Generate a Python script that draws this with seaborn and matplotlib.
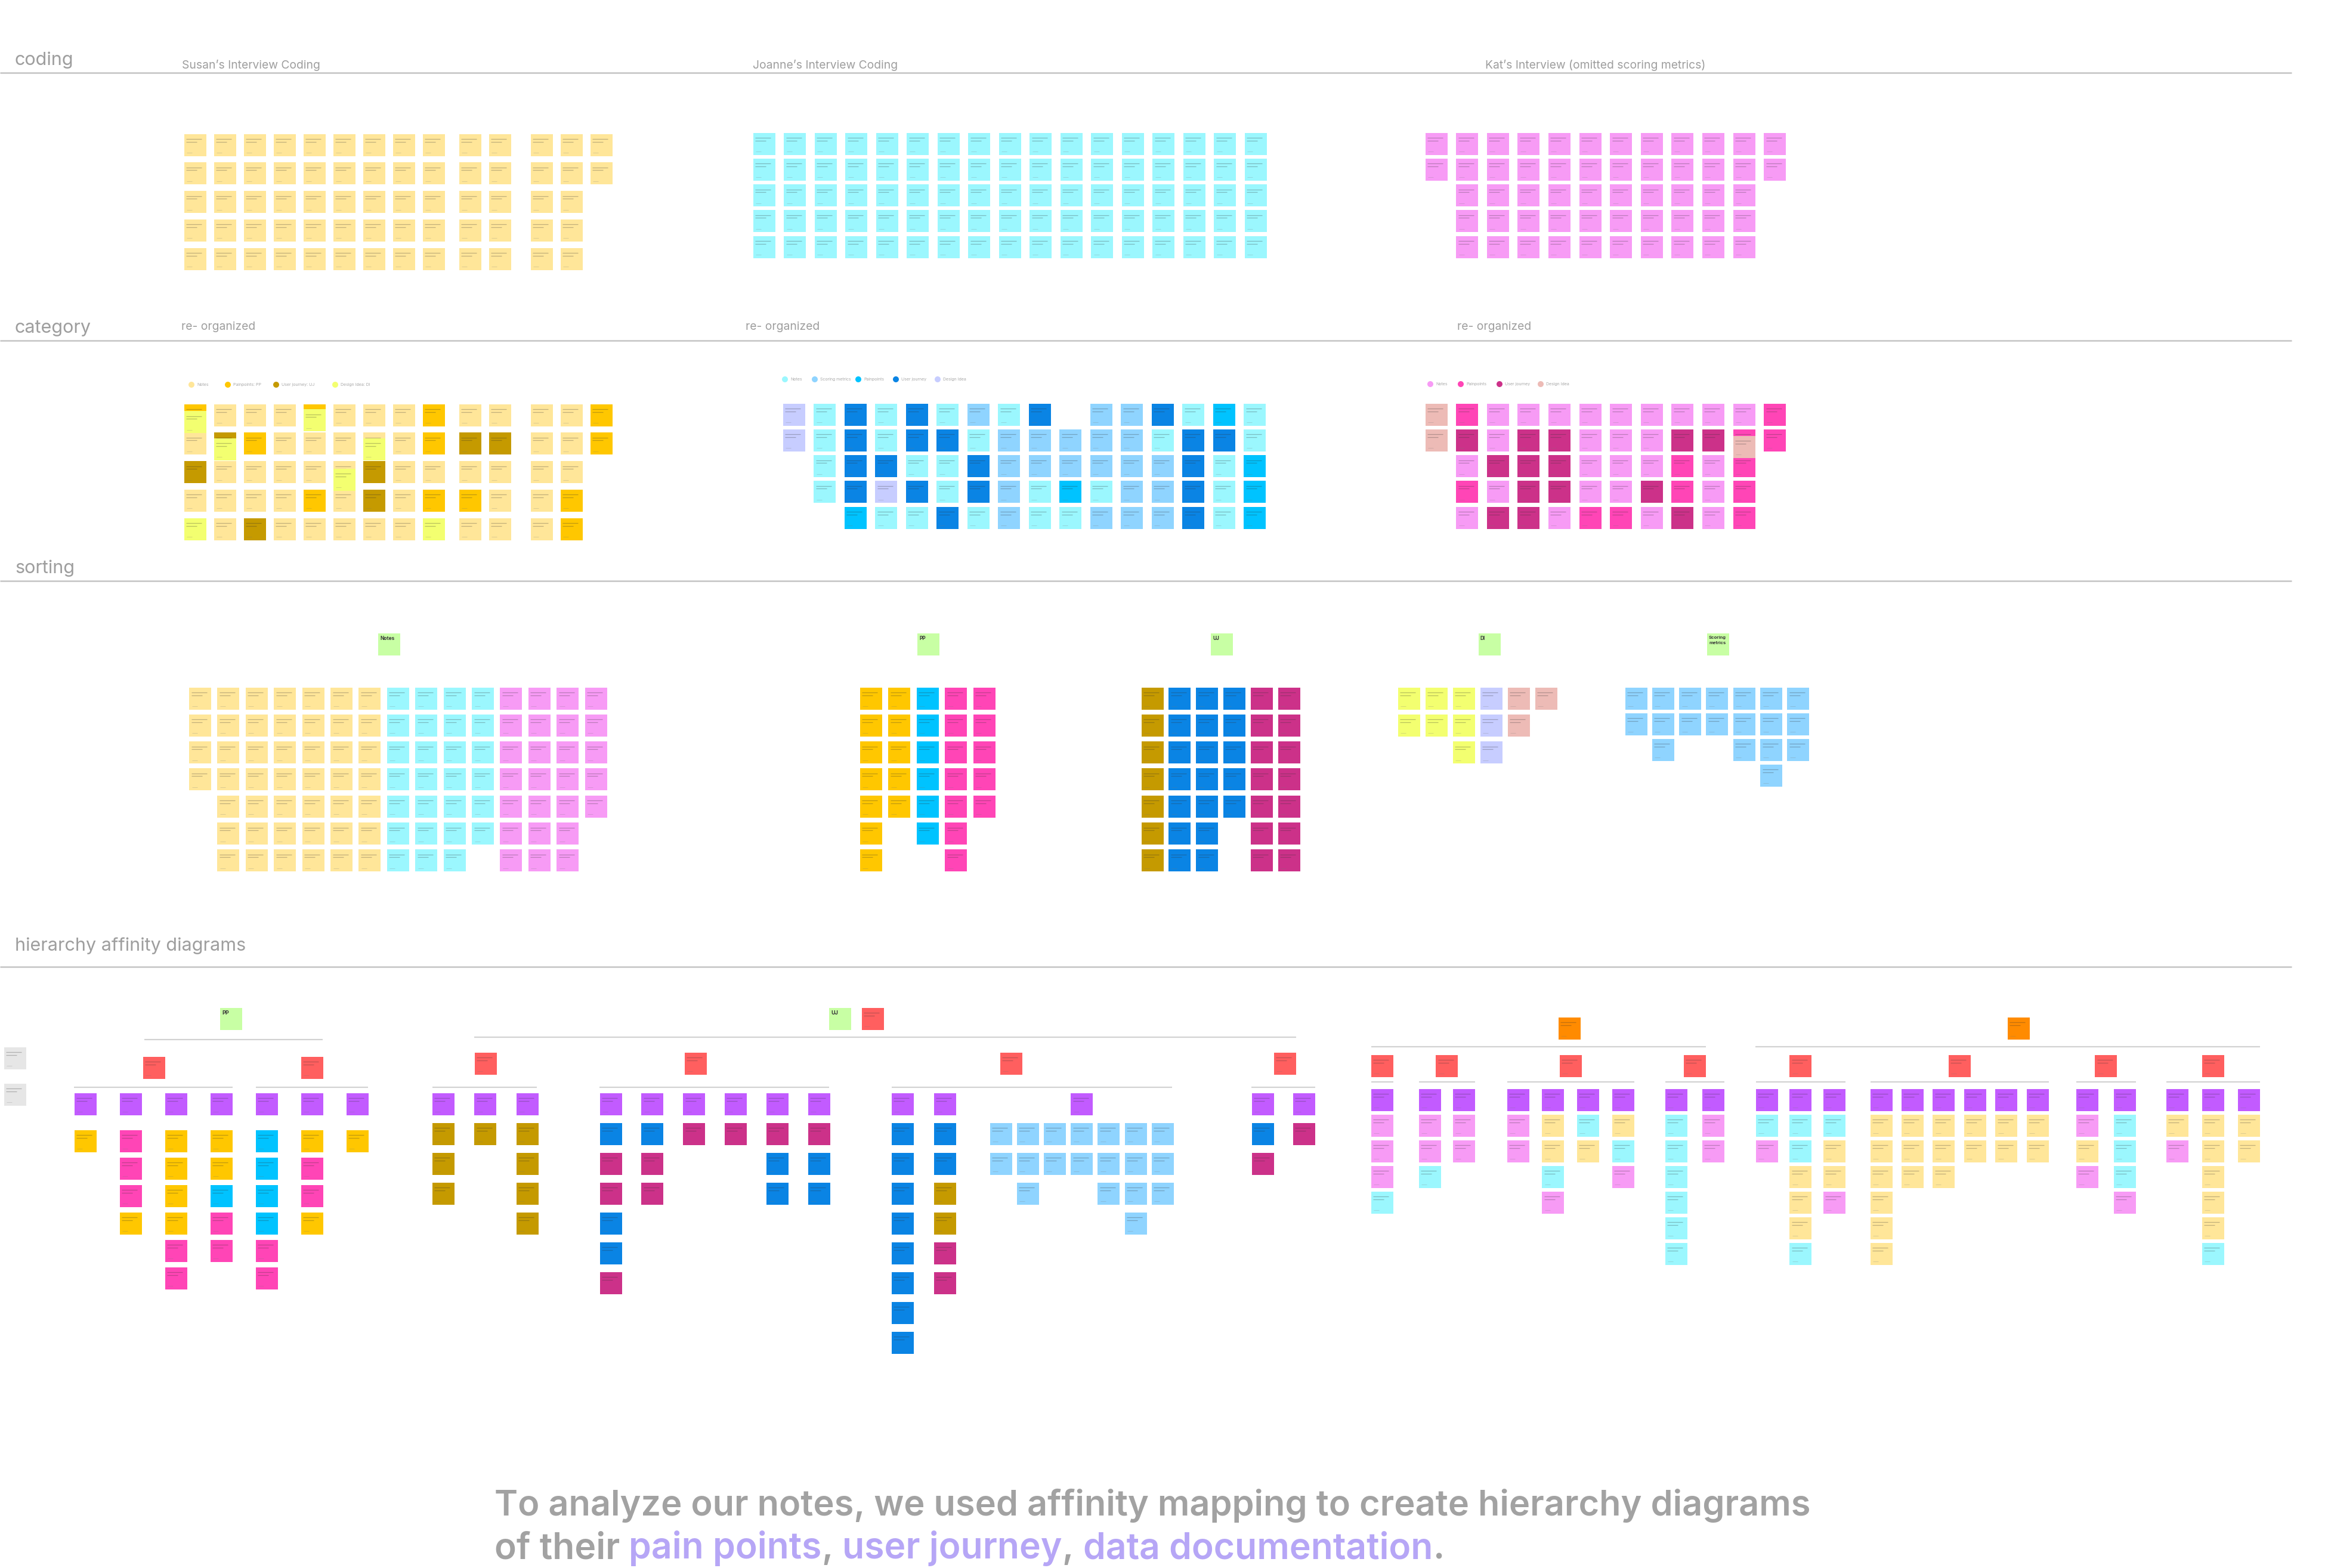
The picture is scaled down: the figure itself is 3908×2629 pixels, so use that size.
import matplotlib
matplotlib.use('Agg')
import matplotlib.pyplot as plt
import numpy as np
import pandas as pd
import seaborn as sns

# ------------------------------------------------------------------ data
# colour code -> sticky-note colour
PALETTE = {
    'y': '#FFE699', 'A': '#FFC700', 'G': '#C59A00', 'L': '#F3FF70',   # Susan
    'c': '#9BF7FE', 's': '#8FD4FF', 'C': '#00C3FF', 'B': '#0A84E4', 'v': '#C7CDFF',  # Joanne
    'k': '#F79BF5', 'H': '#FF45B6', 'M': '#CC3189', 'p': '#EDBBB6',   # Kat
    'g': '#C8FFA4', 'r': '#FF5F5F', 'o': '#FF8B00', 'u': '#C25BFF', 'x': '#E6E6E6',
}

SECTION_TITLES = ['coding', 'category', 'sorting', 'hierarchy affinity diagrams']
CODING_SUBTITLES = ['Susan\u2019s Interview Coding', 'Joanne\u2019s Interview Coding',
                    'Kat\u2019s Interview (omitted scoring metrics)']
CATEGORY_SUBTITLES = ['re- organized', 're- organized', 're- organized']

LEGEND_SUSAN = ['Notes', 'Painpoints: PP', 'User journey: UJ', 'Design Idea: DI']
LEGEND_SUSAN_CODES = ['y', 'A', 'G', 'L']
LEGEND_JOANNE = ['Notes', 'Scoring metrics', 'Painpoints', 'User journey', 'Design Idea']
LEGEND_JOANNE_CODES = ['c', 's', 'C', 'B', 'v']
LEGEND_KAT = ['Notes', 'Painpoints', 'User journey', 'Design Idea']
LEGEND_KAT_CODES = ['k', 'H', 'M', 'p']

# each string = one column of notes, top to bottom
SUSAN_CODING = ['yyyyy'] * 13 + ['yy']
JOANNE_CODING = ['ccccc'] * 17
KAT_CODING = ['kk'] + ['kkkkk'] * 10 + ['kk']

SUSAN_CATEGORY = ['AyGyL', 'yGyyy', 'yAyyG', 'yyyyy', 'AyyAy', 'yyyyy', 'yyGGy',
                  'yyyyy', 'AAyAL', 'yGyAy', 'yGyyy', 'yyyyy', 'yyyAA', 'AA']
SUSAN_CATEGORY_OVERLAY = [(0, 0.25, 'L'), (1, 1.2, 'L'), (4, 0.18, 'L'),
                          (5, 2.27, 'L'), (6, 1.2, 'L')]
JOANNE_CATEGORY = ['vv', 'cccc', 'BBBBC', 'ccBvc', 'BBcBc', 'cBccB', 'scBBc', 'cssss',
                   'Bsscc', '.ssCc', 'ssscs', 'sssss', 'Bcsss', 'cBBBB', 'CBccc', 'ccCCC']
KAT_CATEGORY = ['pp', 'HMkHk', 'kkMkM', 'kMMMM', 'kMMMk', 'kkkkH', 'kkkkH',
                'kkkMk', 'kMHHM', 'kMkkk', 'kHHHH', 'HH']
KAT_CATEGORY_OVERLAY = [(10, 1.25, 'p')]

SORT_HEADERS = ['Notes', 'PP', 'UJ', 'DI', 'Scoring\nmetrics']
SORT_NOTES = ['yyyy'] + ['yyyyyyy'] * 6 + ['ccccccc'] * 3 + ['cccccc'] + ['kkkkkkk'] * 3 + ['kkkkk']
SORT_PP = ['AAAAAAA', 'AAAAA', 'CCCCCC', 'HHHHHHH', 'HHHHH']
SORT_UJ = ['GGGGGGG', 'BBBBBBB', 'BBBBBBB', 'BBBBB', 'MMMMMMM', 'MMMMMMM']
SORT_DI = ['LL', 'LL', 'LLL', 'vvv', 'pp', 'p']
SORT_SCORING = ['ss', 'sss', 'ss', 'ss', 'sss', 'ssss', 'sss']

HIER_HEADERS = ['PP', 'UJ']
HIER_PP = ['A', 'HHHA', 'AAAAHH', 'AACHH', 'CCCCHH', 'AHHA', 'A']
HIER_UJ_A = ['GGG', 'G', 'GGGG']
HIER_UJ_B = ['BMMBBM', 'BMM', 'M', 'M', 'MBB', 'MBB']
HIER_UJ_C = ['BBBBBBBB', 'BBGGMM']
HIER_UJ_S = ['ss', 'sss', 'ss', 'ss', 'sss', 'ssss', 'sss']
HIER_UJ_D = ['BM', 'M']
HIER_R = [['kkkc'], ['kkc', 'kk'], ['kk', 'yyck', 'cy', 'yck'], ['cccccc', 'kk'],
          ['ck', 'ccyyyc', 'cyyk'], ['yyyyyy', 'yyy', 'yyy', 'yy', 'yy', 'yy'],
          ['kyk', 'ccck'], ['yk', 'yyyyyc', 'yy']]

TEXT_LINE1 = 'To analyze our notes, we used affinity mapping to create hierarchy diagrams'
TEXT_LINE2 = ['of their ', 'pain points', ', ', 'user journey', ', ', 'data documentation', '.']
TEXT_LINE2_HL = [False, True, False, True, False, True, False]

# ------------------------------------------------------------------ layout
W, H = 3908, 2629
PXPT = 0.72            # points per pixel at dpi 100
NOTE = 37              # sticky-note side (px)
GRAY_TXT = '#9E9E9E'
LINE_GRAY = '#C4C4C4'
CONN_GRAY = '#D2D2D2'

sns.set_theme(style='white')
plt.rcParams['font.family'] = ['Inter', 'DejaVu Sans']

fig = plt.figure(figsize=(W / 100, H / 100), dpi=100)
fig.patch.set_facecolor('white')
ax = fig.add_axes([0, 0, 1, 1])
ax.set_xlim(0, W)
ax.set_ylim(H, 0)
ax.axis('off')


def s_of(px):
    return (px * PXPT) ** 2


records = []      # (x, y, code, layer)


def add_grid(cols, x0, dx, y0, dy, gaps=None, top=None, top_y=None):
    xs = []
    extra = 0.0
    for i, col in enumerate(cols):
        x = x0 + i * dx + extra
        xs.append(x)
        for j, code in enumerate(col):
            if code != '.':
                records.append((x, y0 + j * dy, code, 'base'))
        if top is not None:
            records.append((x, top_y, top, 'base'))
        if gaps and i in gaps:
            extra += gaps[i]
    return xs


def add_overlay(xs, y0, dy, items):
    for ci, rpos, code in items:
        records.append((xs[ci], y0 + rpos * dy, code, 'over'))


def add_single(x, y, code):
    records.append((x, y, code, 'base'))


# ---- coding
add_grid(SUSAN_CODING, 327, 50, 243, 47.75, gaps={8: 11, 10: 20})
add_grid(JOANNE_CODING, 1281, 51.5, 241, 43.3)
add_grid(KAT_CODING, 2408, 51.6, 241, 43.3)
# ---- category
xs_sc = add_grid(SUSAN_CATEGORY, 327, 50, 696, 47.75, gaps={8: 11, 10: 20})
add_overlay(xs_sc, 696, 47.75, SUSAN_CATEGORY_OVERLAY)
add_grid(JOANNE_CATEGORY, 1331, 51.5, 695, 43.3)
xs_kc = add_grid(KAT_CATEGORY, 2408, 51.6, 695, 43.3)
add_overlay(xs_kc, 695, 43.3, KAT_CATEGORY_OVERLAY)
# ---- sorting
add_grid(SORT_NOTES, 335.5, 47.4, 1171, 45.3)
add_grid(SORT_PP, 1460, 47.5, 1171, 45.3)
add_grid(SORT_UJ, 1932, 45.8, 1171, 45.3)
add_grid(SORT_DI, 2362, 46, 1171, 45.3)
add_grid(SORT_SCORING, 2743, 45.3, 1171, 43)
SORT_HEADER_X = [652, 1556, 2048, 2497, 2880]
SORT_HEADER_Y = 1080
for hx in SORT_HEADER_X:
    add_single(hx, SORT_HEADER_Y, 'g')

# ---- hierarchy: PP tree
add_single(25, 1774, 'x')
add_single(25, 1835, 'x')
add_single(387, 1708, 'g')
for rx in (258, 523):
    add_single(rx, 1790, 'r')
add_grid(HIER_PP, 143, 76, 1913, 46, top='u', top_y=1851)
# ---- hierarchy: UJ tree
add_single(1408, 1708, 'g')
add_single(1463, 1708, 'r')
for rx in (814, 1166, 1695, 2154):
    add_single(rx, 1783, 'r')
add_grid(HIER_UJ_A, 743, 70.5, 1901, 50, top='u', top_y=1851)
add_grid(HIER_UJ_B, 1024, 69.8, 1901, 50, top='u', top_y=1851)
add_grid(HIER_UJ_C, 1513, 71, 1901, 50, top='u', top_y=1851)
xs_s = add_grid(HIER_UJ_S, 1678, 45.2, 1901, 50)
add_single(xs_s[3], 1851, 'u')
add_grid(HIER_UJ_D, 2117, 69, 1901, 50, top='u', top_y=1851)
# ---- hierarchy: right tree
add_single(2631, 1724, 'o')
add_single(3384, 1724, 'o')
HR_X0 = [2317, 2397, 2545, 2810, 2962, 3154, 3499, 3650]
HR_DX = [57, 57, 58.7, 62, 56.5, 52.4, 63, 60]
sub_spans = []
for cols, x0, dx in zip(HIER_R, HR_X0, HR_DX):
    xs = add_grid(cols, x0, dx, 1887, 43, top='u', top_y=1844)
    add_single((xs[0] + xs[-1]) / 2, 1787, 'r')
    sub_spans.append((xs[0] - NOTE / 2, xs[-1] + NOTE / 2))

df = pd.DataFrame(records, columns=['x', 'y', 'code', 'layer'])

# ------------------------------------------------------------------ lines / titles
SECTION_LINE_Y = [122, 571, 974, 1621]
SECTION_LABEL_Y = [101, 550, 953, 1586]
ax.hlines(SECTION_LINE_Y, 0, 3842, color=LINE_GRAY, lw=1.8, zorder=1)
for lab, ly in zip(SECTION_TITLES, SECTION_LABEL_Y):
    ax.text(25, ly, lab, fontsize=22, color=GRAY_TXT, va='center', ha='left')
for lab, lx in zip(CODING_SUBTITLES, [305, 1262, 2490]):
    ax.text(lx, 115, lab, fontsize=13.9, color=GRAY_TXT, va='baseline', ha='left')
for lab, lx in zip(CATEGORY_SUBTITLES, [304, 1250, 2443]):
    ax.text(lx, 553, lab, fontsize=13.9, color=GRAY_TXT, va='baseline', ha='left')

conn = [(242, 541, 1743), (124, 390, 1823), (429, 617, 1823),
        (795, 2173, 1739), (725, 900, 1823), (1005, 1390, 1823), (1495, 1965, 1823),
        (2098, 2205, 1823), (2299, 2860, 1755), (2943, 3789, 1755)]
for x0, x1, yy in conn:
    ax.hlines(yy, x0, x1, color=CONN_GRAY, lw=1.6, zorder=1)
for x0, x1 in sub_spans:
    ax.hlines(1814, x0, x1, color=CONN_GRAY, lw=1.6, zorder=1)

# ------------------------------------------------------------------ notes
base = df[df.layer == 'base']
over = df[df.layer == 'over']
sns.scatterplot(data=base, x='x', y='y', hue='code', palette=PALETTE, marker='s',
                s=s_of(NOTE), linewidth=0, legend=False, ax=ax, zorder=3)


def text_marks(d, z):
    d = d[d.code != 'g']
    l1 = pd.DataFrame({'x': d.x.values - 2, 'y': d.y.values - 10})
    l2 = pd.DataFrame({'x': d.x.values - 6, 'y': d.y.values - 5.5})
    l3 = pd.DataFrame({'x': d.x.values - 10, 'y': d.y.values + 13})
    sns.scatterplot(data=l1, x='x', y='y', marker='_', s=s_of(26), color='#333333',
                    alpha=0.30, linewidth=0.9, legend=False, ax=ax, zorder=z)
    sns.scatterplot(data=l2, x='x', y='y', marker='_', s=s_of(18), color='#333333',
                    alpha=0.30, linewidth=0.9, legend=False, ax=ax, zorder=z)
    sns.scatterplot(data=l3, x='x', y='y', marker='_', s=s_of(9), color='#777777',
                    alpha=0.25, linewidth=0.7, legend=False, ax=ax, zorder=z)


text_marks(base, 4)
sns.scatterplot(data=over, x='x', y='y', hue='code', palette=PALETTE, marker='s',
                s=s_of(NOTE), linewidth=0, legend=False, ax=ax, zorder=5)
text_marks(over, 6)

# header labels on green notes
for lab, hx in zip(SORT_HEADERS, SORT_HEADER_X):
    ax.text(hx - 15, SORT_HEADER_Y - 14, lab, fontsize=6 if '\n' not in lab else 5.5,
            fontweight='bold', color='#3A3A3A', va='top', ha='left', zorder=7,
            linespacing=1.5)
for lab, (hx, hy) in zip(HIER_HEADERS, [(387, 1708), (1408, 1708)]):
    ax.text(hx - 15, hy - 14, lab, fontsize=6.5, fontweight='bold', color='#3A3A3A',
            va='top', ha='left', zorder=7)

# ------------------------------------------------------------------ category legends
legend_sets = [
    (LEGEND_SUSAN, LEGEND_SUSAN_CODES, [321, 382, 463, 562], 645),
    (LEGEND_JOANNE, LEGEND_JOANNE_CODES, [1316, 1366, 1439, 1502, 1572], 636),
    (LEGEND_KAT, LEGEND_KAT_CODES, [2398, 2449, 2514, 2583], 644),
]
for labels, codes, lxs, ly in legend_sets:
    ldf = pd.DataFrame({'x': lxs, 'y': [ly] * len(lxs), 'code': codes})
    sns.scatterplot(data=ldf, x='x', y='y', hue='code', palette=PALETTE, marker='o',
                    s=s_of(10), linewidth=0, legend=False, ax=ax, zorder=3)
    for lab, lx in zip(labels, lxs):
        ax.text(lx + 9, ly, lab, fontsize=5, color='#AAAAAA', va='center', ha='left')

# ------------------------------------------------------------------ bottom text
renderer = fig.canvas.get_renderer()
BOT_X, BOT_Y1, BOT_Y2, BOT_W = 829, 2541, 2613, 2204
TXT_GRAY = '#A2A2A2'
HL = '#B6A6F6'
t1 = ax.text(BOT_X, BOT_Y1, TEXT_LINE1, fontsize=40, color=TXT_GRAY,
             fontweight='semibold', va='baseline', ha='left')
fs = 40 * BOT_W / t1.get_window_extent(renderer).width
t1.set_fontsize(fs)
fs2 = fs * 1.019


def width(s):
    t = ax.text(0, 0, s, fontsize=fs2, fontweight='semibold')
    w = t.get_window_extent(renderer).width
    t.remove()
    return w


prefix = ''
wl = width('l')
for piece, hl in zip(TEXT_LINE2, TEXT_LINE2_HL):
    off = (width(prefix + 'l') - wl) if prefix else 0
    ax.text(BOT_X + off, BOT_Y2, piece, fontsize=fs2, color=HL if hl else TXT_GRAY,
            fontweight='semibold', va='baseline', ha='left')
    prefix += piece

fig.savefig('out.png', dpi=100, facecolor='white')
